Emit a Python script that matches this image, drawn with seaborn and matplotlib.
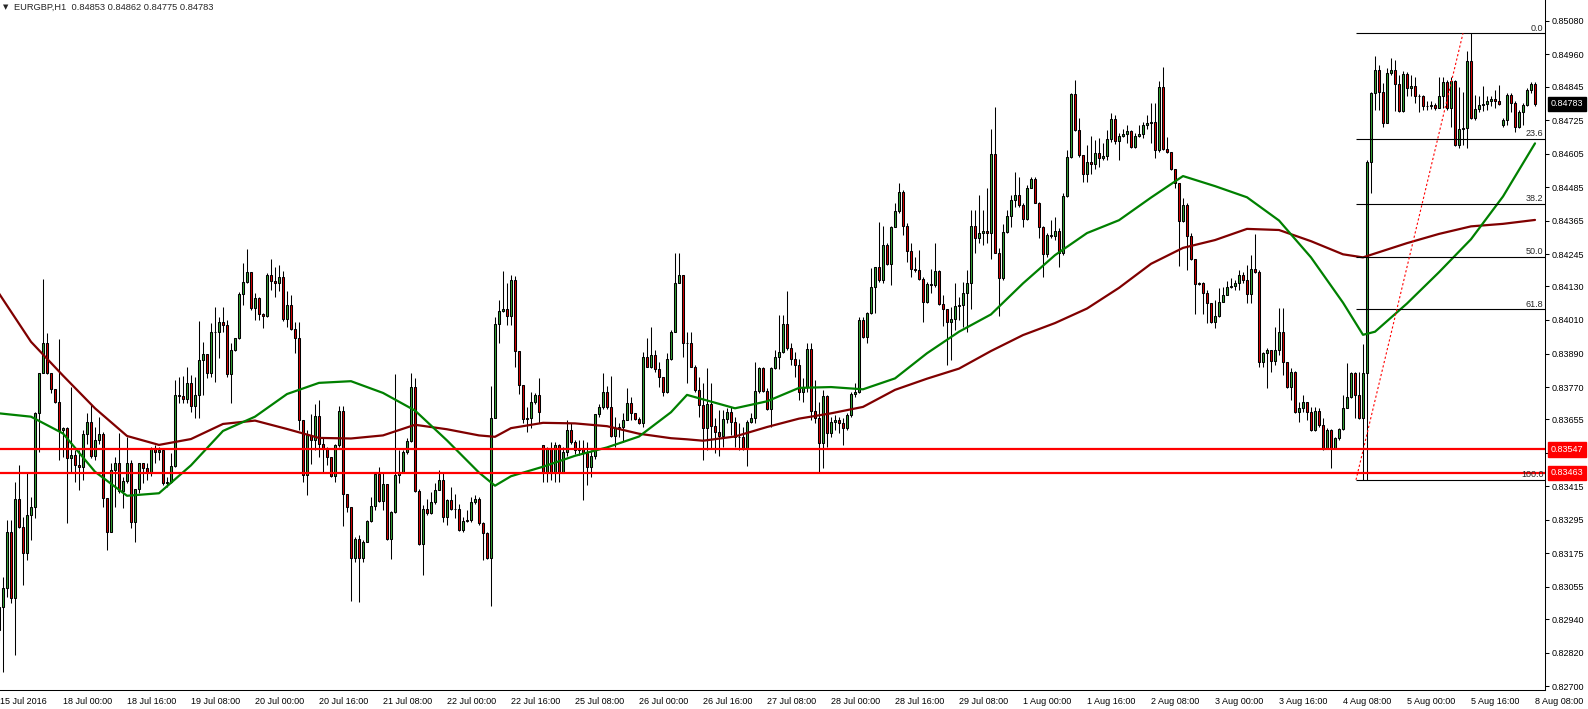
import numpy as np
import pandas as pd
import matplotlib
matplotlib.use("Agg")
import matplotlib.pyplot as plt
import seaborn as sns

# EURGBP H1, one bar per hour: 15 Jul 2016 08:00 .. 8 Aug 2016 08:00
# prices in points (1e-5)
close_pts = [
    82984, 83050, 83252, 83014, 83368, 83270, 83175, 83312, 83342, 83678,
    83819, 83929, 83819, 83762, 83718, 83616, 83622, 83515, 83527, 83491,
    83485, 83602, 83644, 83523, 83580, 83602, 83372, 83250, 83475, 83497,
    83398, 83435, 83500, 83288, 83404, 83497, 83480, 83467, 83551, 83539,
    83545, 83425, 83431, 83487, 83741, 83739, 83727, 83786, 83702, 83741,
    83867, 83887, 83819, 83968, 83966, 84002, 83992, 83815, 83903, 83944,
    84102, 84145, 84180, 84052, 84090, 84030, 84025, 84171, 84151, 84141,
    84163, 84012, 84064, 83976, 83944, 83652, 83455, 83598, 83580, 83666,
    83568, 83550, 83520, 83452, 83562, 83684, 83386, 83341, 83160, 83228,
    83160, 83216, 83291, 83344, 83458, 83363, 83423, 83228, 83322, 83455,
    83467, 83538, 83576, 83771, 83399, 83210, 83335, 83318, 83359, 83403,
    83437, 83306, 83365, 83335, 83332, 83260, 83291, 83296, 83359, 83371,
    83282, 83248, 83160, 83661, 83994, 84042, 84048, 84024, 84153, 83900,
    83779, 83654, 83658, 83715, 83743, 83681, 83463, 83548, 83463, 83564,
    83463, 83538, 83616, 83574, 83544, 83550, 83535, 83485, 83523, 83672,
    83699, 83753, 83697, 83594, 83622, 83628, 83652, 83712, 83676, 83655,
    83640, 83877, 83843, 83885, 83834, 83805, 83754, 83869, 83968, 84141,
    84170, 83929, 83927, 83843, 83760, 83706, 83622, 83710, 83631, 83610,
    83596, 83655, 83680, 83646, 83593, 83590, 83551, 83646, 83658, 83757,
    83837, 83757, 83693, 83837, 83877, 83894, 83996, 83909, 83869, 83849,
    83754, 83772, 83906, 83686, 83658, 83571, 83739, 83605, 83644, 83652,
    83640, 83622, 83670, 83745, 83754, 84010, 83950, 84034, 84129, 84199,
    84153, 84279, 84211, 84344, 84400, 84469, 84348, 84258, 84191, 84189,
    84158, 84076, 84139, 84135, 84186, 84067, 84051, 84003, 84012, 84060,
    84063, 84105, 84143, 84346, 84305, 84320, 84328, 84322, 84604, 84250,
    84159, 84326, 84383, 84441, 84459, 84423, 84373, 84484, 84514, 84429,
    84341, 84246, 84314, 84310, 84329, 84250, 84454, 84594, 84818, 84689,
    84600, 84531, 84576, 84568, 84606, 84588, 84596, 84656, 84728, 84651,
    84668, 84675, 84686, 84630, 84668, 84675, 84707, 84716, 84718, 84618,
    84842, 84621, 84612, 84549, 84501, 84365, 84423, 84311, 84227, 84137,
    84141, 84105, 84069, 84003, 84024, 84075, 84101, 84129, 84131, 84141,
    84171, 84153, 84102, 84192, 84183, 83859, 83891, 83903, 83863, 83903,
    83966, 83859, 83772, 83825, 83680, 83694, 83716, 83682, 83617, 83685,
    83634, 83551, 83617, 83553, 83589, 83620, 83696, 83736, 83819, 83742,
    83658, 83819, 84577, 84821, 84905, 84827, 84716, 84893, 84905, 84854,
    84758, 84889, 84839, 84848, 84813, 84812, 84774, 84776, 84780, 84768,
    84810, 84863, 84768, 84866, 84637, 84694, 84696, 84935, 84732, 84764,
    84780, 84782, 84794, 84800, 84794, 84784, 84726, 84815, 84788, 84702,
    84756, 84780, 84833, 84853, 84783,
]
high_pts = [
    82996, 83091, 83294, 83294, 83431, 83491, 83306, 83461, 83378, 83682,
    83821, 84155, 83962, 83819, 83762, 83941, 83628, 83628, 83771, 83545,
    83545, 83616, 83678, 83709, 83628, 83664, 83609, 83372, 83497, 83521,
    83604, 83449, 83590, 83509, 83406, 83499, 83500, 83497, 83557, 83563,
    83557, 83551, 83449, 83533, 83795, 83807, 83809, 83843, 83813, 83807,
    84008, 83932, 83879, 83998, 84058, 84022, 84055, 84010, 83926, 83946,
    84111, 84213, 84263, 84183, 84105, 84092, 84034, 84177, 84227, 84201,
    84207, 84186, 84115, 84099, 84004, 84004, 83650, 83616, 83675, 83711,
    83723, 83592, 83556, 83520, 83568, 83702, 83702, 83386, 83341, 83234,
    83240, 83222, 83296, 83377, 83461, 83485, 83467, 83423, 83325, 83816,
    83544, 83544, 83586, 83819, 83801, 83407, 83347, 83371, 83395, 83425,
    83473, 83463, 83371, 83413, 83389, 83353, 83306, 83329, 83377, 83383,
    83377, 83288, 83252, 83773, 84021, 84081, 84185, 84141, 84171, 84167,
    83900, 83779, 83699, 83753, 83747, 83803, 83564, 83556, 83574, 83574,
    83568, 83556, 83652, 83640, 83580, 83580, 83580, 83574, 83544, 83675,
    83711, 83819, 83773, 83809, 83663, 83640, 83678, 83766, 83736, 83676,
    83664, 83897, 83945, 83986, 83903, 83861, 83807, 83893, 83974, 84251,
    84251, 84172, 83968, 83968, 83849, 83807, 83783, 83837, 83783, 83658,
    83688, 83688, 83694, 83700, 83664, 83640, 83628, 83652, 83676, 83861,
    83843, 83843, 83766, 83843, 83903, 84028, 84028, 84114, 83927, 83897,
    83869, 83801, 83927, 83927, 83795, 83718, 83760, 83742, 83664, 83670,
    83664, 83658, 83676, 83754, 83783, 84022, 84022, 84040, 84195, 84201,
    84362, 84347, 84287, 84347, 84428, 84499, 84475, 84356, 84285, 84237,
    84261, 84165, 84147, 84191, 84284, 84188, 84099, 84051, 84057, 84141,
    84093, 84147, 84188, 84403, 84403, 84457, 84403, 84481, 84695, 84773,
    84266, 84355, 84403, 84457, 84540, 84522, 84427, 84493, 84520, 84522,
    84432, 84346, 84320, 84367, 84379, 84338, 84463, 84618, 84821, 84868,
    84731, 84602, 84636, 84668, 84654, 84660, 84642, 84689, 84749, 84743,
    84678, 84695, 84707, 84689, 84678, 84707, 84719, 84743, 84787, 84785,
    84866, 84914, 84666, 84612, 84552, 84499, 84445, 84427, 84320, 84227,
    84147, 84147, 84117, 84071, 84081, 84123, 84129, 84149, 84159, 84153,
    84188, 84183, 84207, 84243, 84317, 84189, 83897, 83909, 83903, 83986,
    84052, 84052, 83861, 83837, 83828, 83718, 83742, 83718, 83700, 83700,
    83694, 83658, 83622, 83619, 83593, 83625, 83742, 83857, 83825, 83825,
    83825, 83923, 84583, 84827, 84956, 84923, 84857, 84911, 84947, 84941,
    84887, 84901, 84899, 84887, 84881, 84818, 84815, 84792, 84792, 84786,
    84881, 84881, 84869, 84881, 84869, 84845, 84827, 84971, 85036, 84815,
    84813, 84848, 84810, 84810, 84833, 84851, 84732, 84821, 84821, 84792,
    84762, 84786, 84839, 84861, 84862,
]
low_pts = [
    82853, 82751, 83020, 82996, 82811, 83265, 83061, 83151, 83223, 83300,
    83539, 83819, 83817, 83747, 83712, 83509, 83521, 83285, 83461, 83429,
    83401, 83437, 83568, 83517, 83509, 83568, 83342, 83187, 83250, 83342,
    83390, 83336, 83425, 83264, 83217, 83390, 83425, 83437, 83453, 83497,
    83509, 83419, 83413, 83425, 83485, 83712, 83712, 83712, 83682, 83658,
    83658, 83741, 83801, 83807, 83789, 83873, 83968, 83807, 83714, 83900,
    83942, 84064, 84141, 84046, 84010, 84010, 83980, 84019, 84117, 84093,
    84114, 84008, 83986, 83974, 83893, 83616, 83431, 83384, 83496, 83544,
    83520, 83461, 83491, 83449, 83431, 83556, 83272, 83323, 83005, 83145,
    83001, 83145, 83216, 83288, 83329, 83359, 83329, 83222, 83153, 83318,
    83425, 83461, 83532, 83574, 83395, 83204, 83097, 83312, 83315, 83353,
    83401, 83288, 83276, 83329, 83300, 83255, 83252, 83288, 83288, 83353,
    83276, 83151, 83156, 82986, 83658, 83926, 84039, 83992, 83992, 83842,
    83745, 83640, 83610, 83622, 83711, 83640, 83431, 83431, 83437, 83431,
    83431, 83461, 83523, 83568, 83532, 83526, 83365, 83419, 83449, 83514,
    83663, 83693, 83693, 83592, 83556, 83592, 83575, 83652, 83652, 83652,
    83638, 83628, 83841, 83837, 83825, 83772, 83738, 83750, 83867, 83968,
    84141, 83879, 83786, 83841, 83754, 83664, 83509, 83545, 83551, 83535,
    83523, 83557, 83640, 83599, 83557, 83545, 83545, 83488, 83640, 83640,
    83748, 83752, 83688, 83628, 83834, 83834, 83891, 83903, 83849, 83807,
    83724, 83718, 83754, 83652, 83640, 83467, 83479, 83557, 83593, 83616,
    83605, 83563, 83616, 83664, 83736, 83748, 83945, 83927, 84032, 84034,
    84147, 84141, 84207, 84135, 84344, 84394, 84314, 84219, 84163, 84183,
    84153, 84004, 84070, 84105, 84129, 84063, 83989, 83848, 83866, 83974,
    84009, 83986, 83968, 84051, 84248, 84284, 84278, 84286, 84230, 84248,
    84024, 84153, 84322, 84343, 84415, 84415, 84343, 84367, 84481, 84427,
    84302, 84165, 84236, 84302, 84296, 84200, 84242, 84451, 84588, 84687,
    84594, 84505, 84505, 84534, 84552, 84558, 84582, 84582, 84648, 84639,
    84582, 84666, 84642, 84627, 84624, 84663, 84660, 84695, 84642, 84588,
    84612, 84620, 84606, 84546, 84481, 84204, 84361, 84188, 84224, 84033,
    84135, 84033, 83998, 84001, 83982, 84021, 84075, 84099, 84123, 84117,
    84117, 84141, 84070, 84070, 84177, 83840, 83843, 83768, 83825, 83849,
    83885, 83813, 83766, 83724, 83676, 83644, 83682, 83652, 83613, 83611,
    83628, 83545, 83549, 83482, 83549, 83581, 83617, 83694, 83730, 83658,
    83656, 83438, 83438, 84466, 84762, 84762, 84702, 84714, 84887, 84758,
    84753, 84756, 84810, 84813, 84788, 84753, 84762, 84762, 84765, 84762,
    84768, 84768, 84762, 84702, 84634, 84627, 84637, 84625, 84730, 84726,
    84756, 84758, 84762, 84774, 84768, 84780, 84702, 84706, 84756, 84684,
    84696, 84708, 84774, 84821, 84775,
]
# bars that open with a weekend gap (others open at the previous close)
week_open = {0: 82900, 136: 83562, 376: 84708}

# moving averages, read every few bars
ma_bars = [0, 8, 16, 24, 32, 40, 48, 56, 64, 72, 80, 88, 96, 104, 112, 120, 124,
           128, 136, 144, 152, 160, 168, 172, 176, 184, 192, 200, 208, 216, 224,
           232, 240, 248, 256, 264, 272, 280, 288, 296, 304, 312, 320, 328, 336,
           341, 344, 352, 360, 368, 376, 384]
ma_fast = [83676, 83664, 83604, 83467, 83381, 83390, 83490, 83613, 83664, 83745,
           83785, 83791, 83749, 83686, 83579, 83464, 83417, 83451, 83485, 83524,
           83554, 83593, 83680, 83742, 83726, 83694, 83719, 83767, 83770, 83762,
           83801, 83891, 83968, 84030, 84141, 84242, 84321, 84367, 84448, 84525,
           84489, 84449, 84366, 84234, 84072, 83957, 83968, 84069, 84181, 84299,
           84452, 84642]
ma_slow = [84105, 83932, 83811, 83694, 83595, 83563, 83584, 83638, 83650, 83620,
           83588, 83586, 83597, 83635, 83619, 83597, 83592, 83623, 83642, 83640,
           83630, 83603, 83587, 83583, 83578, 83593, 83627, 83657, 83676, 83699,
           83760, 83800, 83836, 83899, 83956, 83999, 84051, 84125, 84211, 84268,
           84296, 84336, 84332, 84292, 84245, 84234, 84248, 84285, 84318, 84345,
           84354, 84368]

price_labels = ["0.85080", "0.84960", "0.84845", "0.84725", "0.84605", "0.84485",
                "0.84365", "0.84245", "0.84130", "0.84010", "0.83890", "0.83770",
                "0.83655", "0.83535", "0.83415", "0.83295", "0.83175", "0.83055",
                "0.82940", "0.82820", "0.82700"]
time_labels = ["15 Jul 2016", "18 Jul 00:00", "18 Jul 16:00", "19 Jul 08:00",
               "20 Jul 00:00", "20 Jul 16:00", "21 Jul 08:00", "22 Jul 00:00",
               "22 Jul 16:00", "25 Jul 08:00", "26 Jul 00:00", "26 Jul 16:00",
               "27 Jul 08:00", "28 Jul 00:00", "28 Jul 16:00", "29 Jul 08:00",
               "1 Aug 00:00", "1 Aug 16:00", "2 Aug 08:00", "3 Aug 00:00",
               "3 Aug 16:00", "4 Aug 08:00", "5 Aug 00:00", "5 Aug 16:00",
               "8 Aug 08:00"]
time_ticks = [0.25] + list(range(16, 385, 16))

levels = [0.83547, 0.83463]
last_price = 0.84783
fib_high, fib_low = 0.85036, 0.83438
fib_ratios = [0.0, 23.6, 38.2, 50.0, 61.8, 100.0]
fib_start, fib_end = 339.25, 366.0

# ---- data frame ----
close = np.array(close_pts) / 1e5
high = np.array(high_pts) / 1e5
low = np.array(low_pts) / 1e5
opn = np.r_[np.nan, close[:-1]]
for i, v in week_open.items():
    opn[i] = v / 1e5
df = pd.DataFrame({"bar": np.arange(len(close)), "open": opn, "high": high,
                   "low": low, "close": close})
df["high"] = df[["open", "high", "close"]].max(axis=1)
df["low"] = df[["open", "low", "close"]].min(axis=1)

sns.set_style("white")
plt.rcParams["font.family"] = ["Liberation Sans", "DejaVu Sans"]
FS = 6.5
GREEN = "#32a032"
RED = "#d40000"

fig = plt.figure(figsize=(15.88, 7.09), dpi=100)
ax = fig.add_axes([0, 19 / 709, 1545 / 1588, 690 / 709])

# candles
ax.vlines(df["bar"], df["low"], df["high"], color="black", lw=0.75, zorder=2)
up = df["close"] >= df["open"]
ax.bar(df["bar"][up], (df["close"] - df["open"])[up], bottom=df["open"][up],
       width=0.5, color=GREEN, edgecolor="black", lw=0.75, zorder=3)
ax.bar(df["bar"][~up], (df["open"] - df["close"])[~up], bottom=df["close"][~up],
       width=0.5, color=RED, edgecolor="black", lw=0.75, zorder=3)

# moving averages
ma = pd.DataFrame({"bar": ma_bars, "fast": np.array(ma_fast) / 1e5,
                   "slow": np.array(ma_slow) / 1e5})
sns.lineplot(data=ma, x="bar", y="slow", color="#800000", lw=1.6, ax=ax,
             estimator=None, zorder=4)
sns.lineplot(data=ma, x="bar", y="fast", color="#008000", lw=1.6, ax=ax,
             estimator=None, zorder=4)

# support lines
for lv in levels:
    ax.axhline(lv, color="#ff0000", lw=1.6, zorder=5)

# fibonacci retracement
rng = fib_high - fib_low
for r in fib_ratios:
    p = fib_high - r / 100 * rng
    ax.hlines(p, fib_start, 386.5, color="black", lw=0.8, zorder=5)
    ax.text(386.1, p + 0.00002, f"{r:.1f}", ha="right", va="bottom",
            fontsize=FS, zorder=6)
ax.plot([fib_start, fib_end], [fib_low, fib_high], color="#ff0000", lw=0.8,
        ls=(0, (2, 2)), zorder=5)

ax.set_xlim(0.25, 386.5)
ax.set_ylim(0.82686, 0.85155)
ax.set_xlabel("")
ax.set_ylabel("")

# axes styling
for s in ["left", "top"]:
    ax.spines[s].set_visible(False)
for s in ["right", "bottom"]:
    ax.spines[s].set_color("black")
    ax.spines[s].set_linewidth(0.75)
ax.yaxis.tick_right()
ax.set_yticks([float(s) for s in price_labels])
ax.set_yticklabels(price_labels)
ax.set_xticks(time_ticks)
ax.set_xticklabels(time_labels, ha="left")
ax.tick_params(axis="both", direction="out", length=3, width=0.75,
               labelsize=FS, colors="black")
ax.tick_params(axis="y", pad=2)
ax.tick_params(axis="x", pad=2)

# price boxes on the scale
trans = ax.get_yaxis_transform()
for lv, fc in [(last_price, "black")] + [(lv, "#ff0000") for lv in levels]:
    ax.text(1.0035, lv, f"{lv:.5f}", transform=trans, ha="left", va="center",
            color="white", fontsize=FS, clip_on=False, zorder=10,
            bbox=dict(boxstyle="square,pad=0.3", fc=fc, ec=fc))

# header
fig.text(3 / 1588, 1 - 7 / 709, "\u25bc", fontsize=5, va="center",
         family=["DejaVu Sans"])
fig.text(14 / 1588, 1 - 7 / 709,
         "EURGBP,H1  0.84853 0.84862 0.84775 0.84783",
         fontsize=6.7, va="center")

fig.savefig("out.png", dpi=100, facecolor="white")
